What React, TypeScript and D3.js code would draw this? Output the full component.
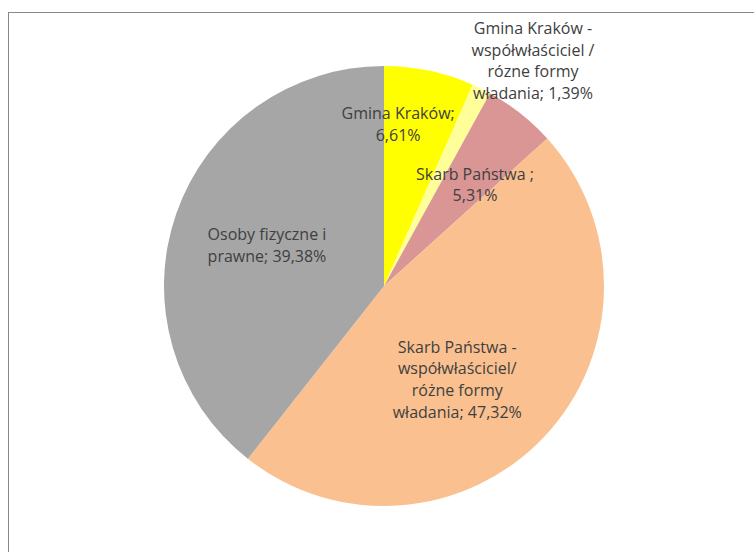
import React from "react";
import * as d3 from "d3";

const categories: string[][] = [
  ["Gmina Kraków;", "6,61%"],
  ["Gmina Kraków -", "współwłaściciel /", "rózne formy", "władania; 1,39%"],
  ["Skarb Państwa ;", "5,31%"],
  ["Skarb Państwa -", "współwłaściciel/", "różne formy", "władania; 47,32%"],
  ["Osoby fizyczne i", "prawne; 39,38%"],
];
const values: number[] = [6.61, 1.39, 5.31, 47.32, 39.38];
const colors: string[] = ["#FFFF00", "#FFFF99", "#D99694", "#FAC090", "#A6A6A6"];
// label placement: [radius, angle in degrees clockwise from top]
const labelPlacement: [number, number][] = [
  [162, 5],
  [270, 33.5],
  [136, 42],
  [119, 142],
  [124, 289.3],
];

const W = 754;
const H = 552;
const cx = 384;
const cy = 286;
const R = 220;
const lineH = 21.8;

export default function App() {
  const pie = d3.pie<number>().sort(null).value((d) => d);
  const arcs = pie(values);
  const arc = d3.arc<d3.PieArcDatum<number>>().innerRadius(0).outerRadius(R);
  return (
    <svg
      width={W}
      height={H}
      style={{ position: "absolute", left: 0, top: 0, background: "#fff" }}
    >
      <line x1={8.5} y1={12} x2={8.5} y2={H} stroke="#888" strokeWidth={1} />
      <line x1={8} y1={12.5} x2={W} y2={12.5} stroke="#888" strokeWidth={1} />
      <g transform={`translate(${cx},${cy})`}>
        {arcs.map((a, i) => (
          <path key={i} d={arc(a) || ""} fill={colors[i]} />
        ))}
        {arcs.map((a, i) => {
          const [r, deg] = labelPlacement[i];
          const t = (deg * Math.PI) / 180;
          const x = r * Math.sin(t);
          const y = -r * Math.cos(t);
          const lines = categories[i];
          const y0 = y - ((lines.length - 1) * lineH) / 2;
          return (
            <text
              key={"t" + i}
              x={x}
              textAnchor="middle"
              fontFamily="'Open Sans', sans-serif"
              fontSize={16}
              fill="#404040"
            >
              {lines.map((l, j) => (
                <tspan key={j} x={x} y={y0 + j * lineH} dy="0.35em">
                  {l}
                </tspan>
              ))}
            </text>
          );
        })}
      </g>
    </svg>
  );
}
